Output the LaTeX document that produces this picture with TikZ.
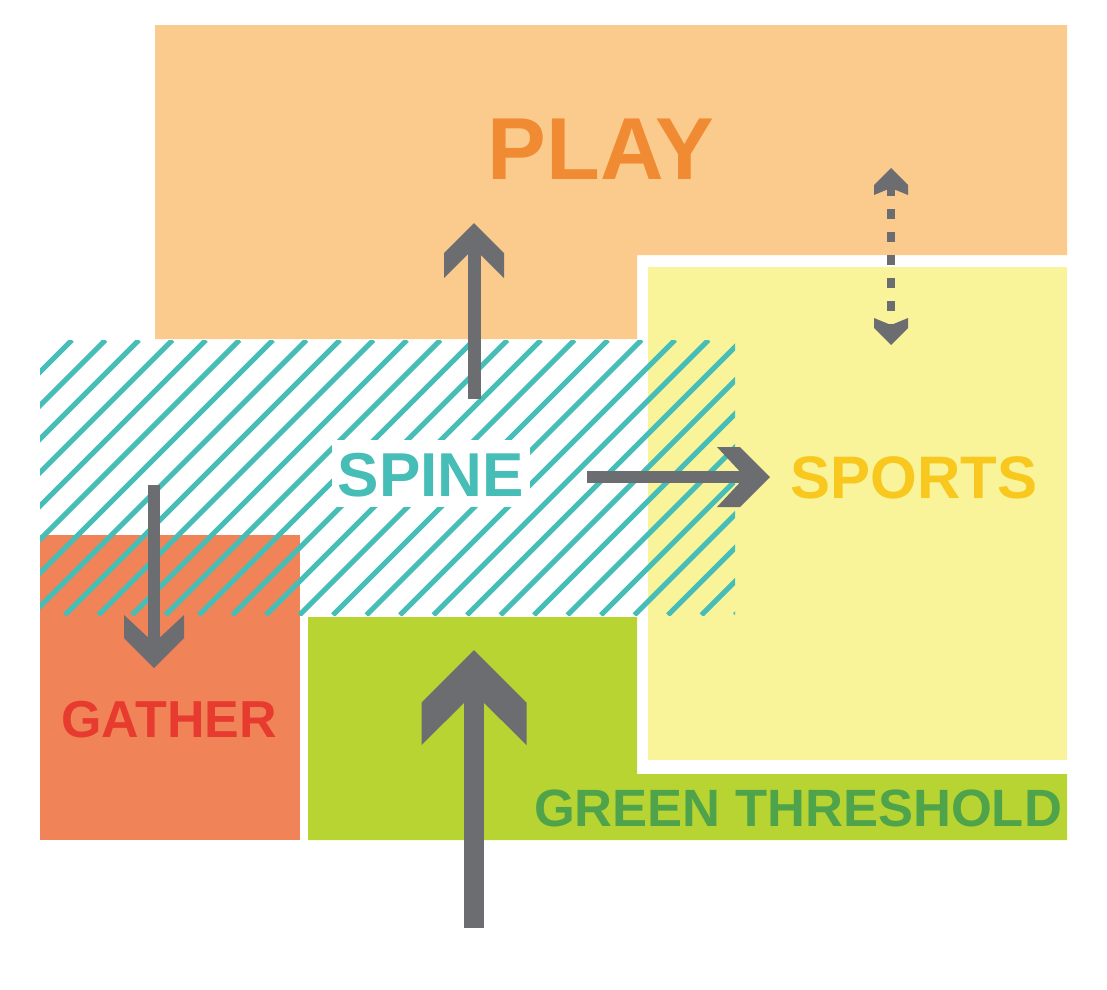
\documentclass[tikz,border=0pt]{standalone}
\usepackage{fontspec}
\setmainfont{Liberation Sans}
\usepackage{xcolor}
\usetikzlibrary{arrows.meta}

\definecolor{playfill}{HTML}{FBCB8D}
\definecolor{playink}{HTML}{F08B33}
\definecolor{sportfill}{HTML}{F9F49A}
\definecolor{sportink}{HTML}{F8C81E}
\definecolor{greenfill}{HTML}{B7D433}
\definecolor{greenink}{HTML}{4FA34A}
\definecolor{gatherfill}{HTML}{F08458}
\definecolor{gatherink}{HTML}{E73B2F}
\definecolor{spineink}{HTML}{46BDB6}
\definecolor{flowgray}{HTML}{6C6D70}

\newdimen\chevnotch
\pgfdeclarearrow{
  name = Chevron,
  parameters = {\the\pgfarrowlength,\the\pgfarrowwidth,\the\pgfarrowinset},
  setup code = {
    \pgfarrowssettipend{0pt}
    \pgfarrowssetbackend{-\pgfarrowlength}
    \chevnotch=\pgfarrowinset
    \advance\chevnotch by -\pgfarrowlength
    \advance\chevnotch by 2pt
    \pgfarrowssetlineend{\chevnotch}
    \pgfarrowssavethe\pgfarrowlength
    \pgfarrowssavethe\pgfarrowwidth
    \pgfarrowssavethe\pgfarrowinset
  },
  drawing code = {
    \pgfpathmoveto{\pgfqpoint{0pt}{0pt}}
    \pgfpathlineto{\pgfqpoint{-.5\pgfarrowwidth}{.5\pgfarrowwidth}}
    \pgfpathlineto{\pgfqpoint{-\pgfarrowlength}{.5\pgfarrowwidth}}
    \pgfpathlineto{\pgfpointadd{\pgfqpoint{-\pgfarrowlength}{0pt}}{\pgfqpoint{\pgfarrowinset}{0pt}}}
    \pgfpathlineto{\pgfqpoint{-\pgfarrowlength}{-.5\pgfarrowwidth}}
    \pgfpathlineto{\pgfqpoint{-.5\pgfarrowwidth}{-.5\pgfarrowwidth}}
    \pgfpathclose
    \pgfusepathqfill
  },
  defaults = {length = 55pt, width = 60pt, inset = 30pt}
}

\begin{document}
\begin{tikzpicture}[x=1pt, y=-1pt,
  tag/.style={font=\bfseries\fontsize{#1}{#1}\selectfont, anchor=base, inner sep=0pt},
  hatch/.style={draw=spineink, line width=5pt},
  flow/.style={draw=flowgray, line width=12pt, -{Chevron[length=53pt, width=60pt, inset=28pt]}}]
  \useasboundingbox (0,0) rectangle (1107,989);

  \fill[playfill] (155,25) -- (1067,25) -- (1067,255) -- (637,255) -- (637,339) -- (155,339) -- cycle;
  \fill[sportfill] (648,267) rectangle (1067,760);
  \fill[greenfill] (308,617) -- (637,617) -- (637,774) -- (1067,774) -- (1067,840) -- (308,840) -- cycle;
  \fill[gatherfill] (40,535) rectangle (300,840);

  \begin{scope}
    \clip (40,340) rectangle (735,615);
    \foreach \k [evaluate=\k as \c using 948+33.5*\k] in {-18,...,12}
      \draw[hatch] (\c-615,615) -- (\c-340,340);
  \end{scope}

  \node[tag=88, text=playink] (play) at (601,179) {PLAY};
  \node[tag=62, text=spineink, fill=white, text height=45pt, text depth=0pt, inner xsep=6pt, inner ysep=11pt] (spine) at (431,496) {SPINE};
  \node[tag=60, text=sportink] (sports) at (914,498) {SPORTS};
  \node[tag=52, text=gatherink] (gather) at (169,737) {GATHER};
  \node[tag=52.5, text=greenink] (green) at (798,826) {GREEN THRESHOLD};

  \coordinate (up-from) at (474,399);
  \coordinate (up-to) at (474,223);
  \coordinate (side-from) at (587,477);
  \coordinate (side-to) at (770,477);
  \coordinate (down-from) at (154,485);
  \coordinate (down-to) at (154,668);
  \coordinate (entry-from) at (474,928);
  \coordinate (entry-to) at (474,650);
  \coordinate (swap-top) at (891,168);
  \coordinate (swap-bottom) at (891,345);

  \draw[flow, line width=13pt, -{Chevron}] (up-from) -- (up-to);
  \draw[flow] (side-from) -- (side-to);
  \draw[flow] (down-from) -- (down-to);
  \draw[flow, line width=20pt, -{Chevron[length=95pt, width=105pt, inset=52pt]}] (entry-from) -- (entry-to);
  \draw[flow, line width=8pt, dash pattern=on 10pt off 13pt,
    {Chevron[length=27pt, width=34pt, inset=7pt]}-{Chevron[length=27pt, width=34pt, inset=7pt]}] (swap-top) -- (swap-bottom);
\end{tikzpicture}
\end{document}
